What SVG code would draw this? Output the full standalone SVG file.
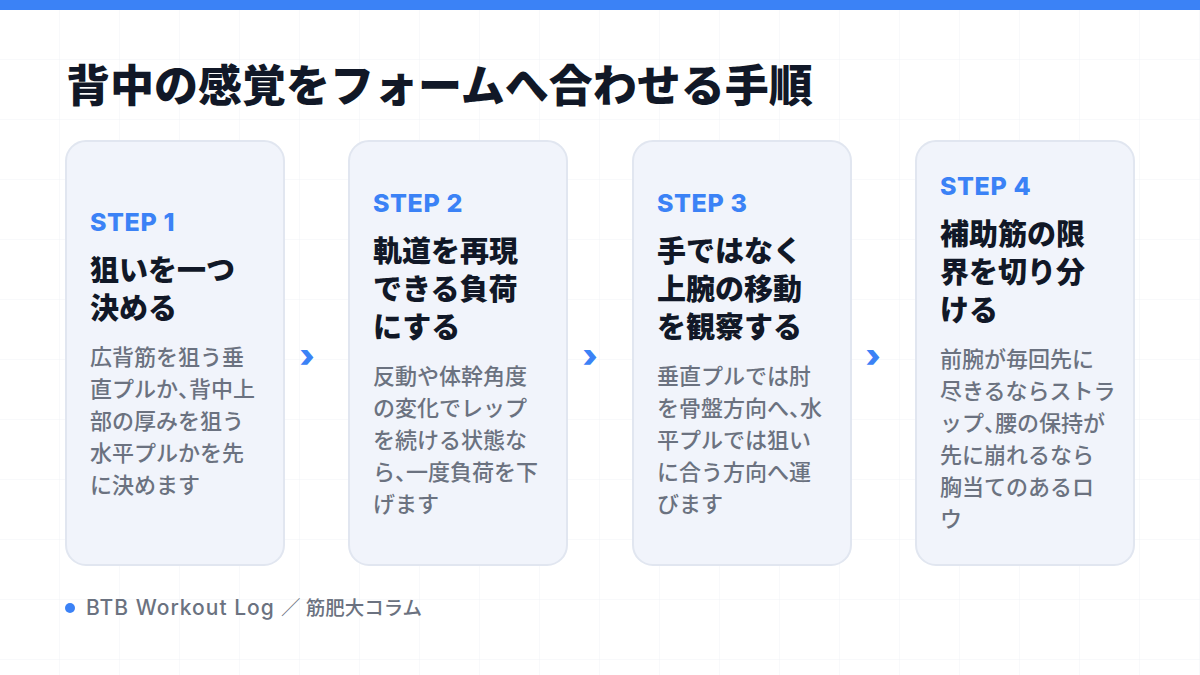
<svg xmlns="http://www.w3.org/2000/svg" width="1200" height="675" viewBox="0 0 1200 675">
<defs>
<pattern id="grid" width="60" height="60" patternUnits="userSpaceOnUse">
<path d="M60 0V60M0 60H60" fill="none" stroke="#f1f3f6" stroke-width="1"/>
</pattern>
<style>
text{font-family:"Inter","Noto Sans CJK JP",sans-serif;}
.title{font-size:44px;font-weight:900;fill:#111827;}
.card{fill:#f1f4fb;stroke:#e1e6f0;stroke-width:2;}
.step{font-size:25px;font-weight:800;fill:#3b82f6;letter-spacing:0.6px;}
.head{font-size:29px;font-weight:900;fill:#111827;}
.body{font-size:22px;font-weight:500;fill:#6b7280;}
.h{font-feature-settings:"halt";}
.arrow{font-size:32px;font-weight:900;fill:#3b82f6;text-anchor:middle;}
.foot{font-size:21px;font-weight:500;fill:#6b7280;letter-spacing:1px;}
.foot .ja{font-size:19.5px;letter-spacing:0;}
</style>
</defs>
<rect width="1200" height="675" fill="#ffffff"/>
<rect width="1200" height="675" fill="url(#grid)"/>
<rect x="0" y="0" width="1200" height="10" fill="#3b82f6"/>
<text class="title" x="66" y="102">背中の感覚をフォームへ合わせる手順</text>

<g id="step1">
<rect class="card" x="66" y="141" width="218" height="424" rx="20"/>
<text class="step" x="90" y="231">STEP 1</text>
<text class="head" x="90" y="281">狙いを一つ</text>
<text class="head" x="90" y="319">決める</text>
<text class="body" x="90" y="365">広背筋を狙う垂</text>
<text class="body" x="90" y="397">直プルか<tspan class="h">、</tspan>背中上</text>
<text class="body" x="90" y="429">部の厚みを狙う</text>
<text class="body" x="90" y="461">水平プルかを先</text>
<text class="body" x="90" y="493">に決めます</text>
</g>

<g id="step2">
<rect class="card" x="349" y="141" width="218" height="424" rx="20"/>
<text class="step" x="373" y="212">STEP 2</text>
<text class="head" x="373" y="262">軌道を再現</text>
<text class="head" x="373" y="300">できる負荷</text>
<text class="head" x="373" y="338">にする</text>
<text class="body" x="373" y="384">反動や体幹角度</text>
<text class="body" x="373" y="416">の変化でレップ</text>
<text class="body" x="373" y="448">を続ける状態な</text>
<text class="body" x="373" y="480">ら<tspan class="h">、</tspan>一度負荷を下</text>
<text class="body" x="373" y="512">げます</text>
</g>

<g id="step3">
<rect class="card" x="633" y="141" width="218" height="424" rx="20"/>
<text class="step" x="657" y="212">STEP 3</text>
<text class="head" x="657" y="262">手ではなく</text>
<text class="head" x="657" y="300">上腕の移動</text>
<text class="head" x="657" y="338">を観察する</text>
<text class="body" x="657" y="384">垂直プルでは肘</text>
<text class="body" x="657" y="416">を骨盤方向へ<tspan class="h">、</tspan>水</text>
<text class="body" x="657" y="448">平プルでは狙い</text>
<text class="body" x="657" y="480">に合う方向へ運</text>
<text class="body" x="657" y="512">びます</text>
</g>

<g id="step4">
<rect class="card" x="916" y="141" width="218" height="424" rx="20"/>
<text class="step" x="940" y="195">STEP 4</text>
<text class="head" x="940" y="245">補助筋の限</text>
<text class="head" x="940" y="283">界を切り分</text>
<text class="head" x="940" y="321">ける</text>
<text class="body" x="940" y="367">前腕が毎回先に</text>
<text class="body" x="940" y="399">尽きるならストラ</text>
<text class="body" x="940" y="431">ップ<tspan class="h">、</tspan>腰の保持が</text>
<text class="body" x="940" y="463">先に崩れるなら</text>
<text class="body" x="940" y="495">胸当てのあるロ</text>
<text class="body" x="940" y="527">ウ</text>
</g>

<g id="connectors">
<text class="arrow" x="307" y="367">›</text>
<text class="arrow" x="590" y="367">›</text>
<text class="arrow" x="873" y="367">›</text>
</g>

<g id="footer">
<circle cx="70" cy="608" r="5" fill="#3b82f6"/>
<text class="foot" x="86" y="615">BTB Workout Log<tspan class="ja" x="281">／ 筋肥大コラム</tspan></text>
</g>
</svg>
